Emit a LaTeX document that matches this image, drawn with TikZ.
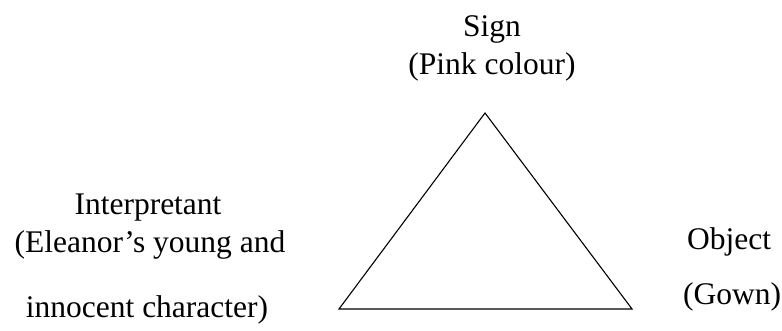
\documentclass[tikz,border=0pt]{standalone}
\usepackage{fontspec}
\setmainfont{Liberation Serif}
\begin{document}
\begin{tikzpicture}[x=1pt,y=1pt,
  lbl/.style={inner sep=0pt, font=\fontsize{31.5}{37}\selectfont},
  edge/.style={line width=1.1pt, line join=miter}]
\useasboundingbox (0,0) rectangle (782,331);
\coordinate (apex) at (485,218);
\coordinate (bl) at (339,22);
\coordinate (br) at (632,22);
\draw[edge] (apex) -- (bl) -- (br) -- cycle;
\node[lbl, anchor=base] (sign) at (492,294) {Sign};
\node[lbl, anchor=base] (pink) at (492,256) {(Pink colour)};
\node[lbl, anchor=base] (interp) at (148,116) {Interpretant};
\node[lbl, anchor=base] (elea) at (150,78) {(Eleanor’s young and};
\node[lbl, anchor=base] (inno) at (147,13) {innocent character)};
\node[lbl, anchor=base west] (obj) at (687,81) {Object};
\node[lbl, anchor=base west] (gown) at (683,26) {(Gown)};
\end{tikzpicture}
\end{document}
